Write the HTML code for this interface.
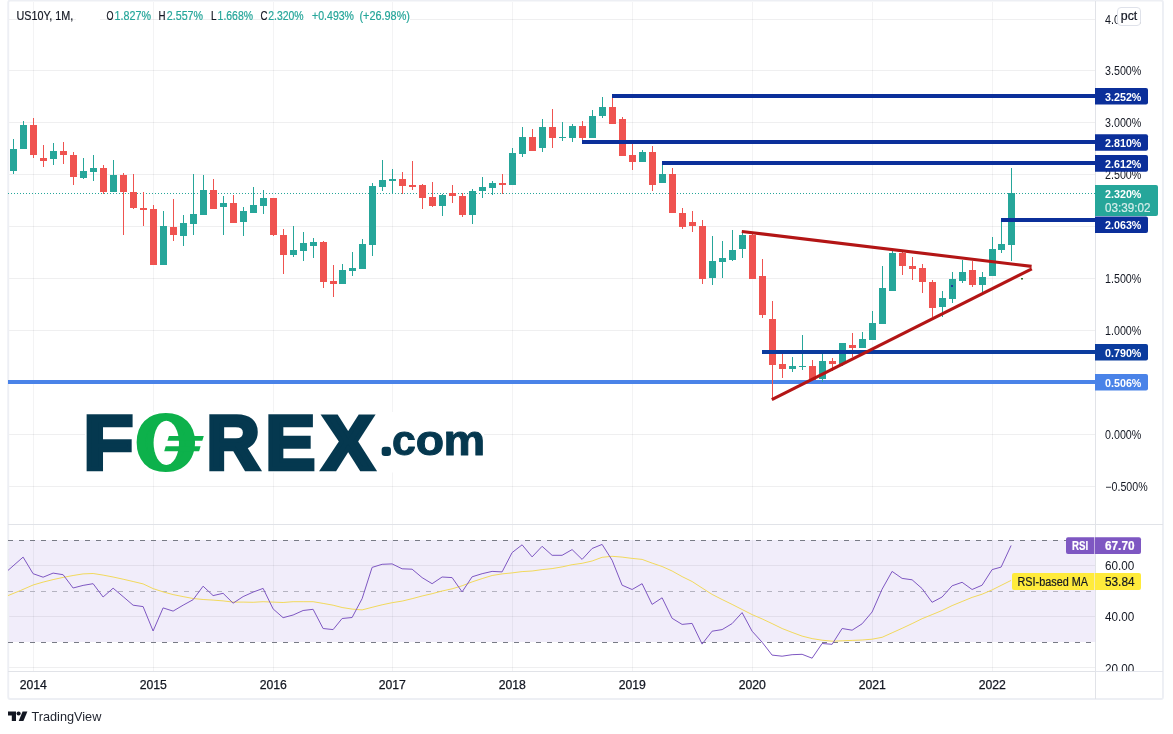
<!DOCTYPE html>
<html lang="en"><head><meta charset="utf-8"><title>US10Y 1M chart</title>
<style>html,body{margin:0;padding:0;background:#fff;}svg{display:block}</style></head>
<body>
<svg width="1173" height="734" viewBox="0 0 1173 734" font-family="'Liberation Sans', sans-serif">
<rect width="1173" height="734" fill="#fff"/>
<g shape-rendering="crispEdges">
<rect x="8" y="540" width="1087" height="102" fill="#f1edfa"/>
<rect x="8" y="19" width="68" height="1" fill="rgba(40,45,60,0.075)"/>
<rect x="100" y="19" width="204" height="1" fill="rgba(40,45,60,0.075)"/>
<rect x="410" y="19" width="685" height="1" fill="rgba(40,45,60,0.075)"/>
<rect x="8" y="70" width="1087" height="1" fill="rgba(40,45,60,0.075)"/>
<rect x="8" y="122" width="1087" height="1" fill="rgba(40,45,60,0.075)"/>
<rect x="8" y="174" width="1087" height="1" fill="rgba(40,45,60,0.075)"/>
<rect x="8" y="226" width="1087" height="1" fill="rgba(40,45,60,0.075)"/>
<rect x="8" y="278" width="1087" height="1" fill="rgba(40,45,60,0.075)"/>
<rect x="8" y="330" width="1087" height="1" fill="rgba(40,45,60,0.075)"/>
<rect x="8" y="382" width="1087" height="1" fill="rgba(40,45,60,0.075)"/>
<rect x="8" y="434" width="1087" height="1" fill="rgba(40,45,60,0.075)"/>
<rect x="8" y="486" width="1087" height="1" fill="rgba(40,45,60,0.075)"/>
<rect x="33" y="2" width="1" height="522" fill="rgba(40,45,60,0.055)"/>
<rect x="33" y="525" width="1" height="146" fill="rgba(40,45,60,0.055)"/>
<rect x="153" y="2" width="1" height="522" fill="rgba(40,45,60,0.055)"/>
<rect x="153" y="525" width="1" height="146" fill="rgba(40,45,60,0.055)"/>
<rect x="273" y="2" width="1" height="522" fill="rgba(40,45,60,0.055)"/>
<rect x="273" y="525" width="1" height="146" fill="rgba(40,45,60,0.055)"/>
<rect x="392" y="2" width="1" height="522" fill="rgba(40,45,60,0.055)"/>
<rect x="392" y="525" width="1" height="146" fill="rgba(40,45,60,0.055)"/>
<rect x="512" y="2" width="1" height="522" fill="rgba(40,45,60,0.055)"/>
<rect x="512" y="525" width="1" height="146" fill="rgba(40,45,60,0.055)"/>
<rect x="632" y="2" width="1" height="522" fill="rgba(40,45,60,0.055)"/>
<rect x="632" y="525" width="1" height="146" fill="rgba(40,45,60,0.055)"/>
<rect x="752" y="2" width="1" height="522" fill="rgba(40,45,60,0.055)"/>
<rect x="752" y="525" width="1" height="146" fill="rgba(40,45,60,0.055)"/>
<rect x="872" y="2" width="1" height="522" fill="rgba(40,45,60,0.055)"/>
<rect x="872" y="525" width="1" height="146" fill="rgba(40,45,60,0.055)"/>
<rect x="992" y="2" width="1" height="522" fill="rgba(40,45,60,0.055)"/>
<rect x="992" y="525" width="1" height="146" fill="rgba(40,45,60,0.055)"/>
<rect x="8" y="565" width="1087" height="1" fill="rgba(40,45,60,0.075)"/>
<rect x="8" y="616" width="1087" height="1" fill="rgba(40,45,60,0.075)"/>
<rect x="8" y="667" width="1087" height="1" fill="rgba(40,45,60,0.075)"/>
</g>
<rect x="8.25" y="0.45" width="1154.7" height="698.5" rx="2" fill="none" stroke="#edeff4" stroke-width="1.9"/>
<g shape-rendering="crispEdges">
<rect x="1095" y="1" width="1" height="698" fill="#e1e3e8"/>
<rect x="8" y="524" width="1155" height="1" fill="#e1e3e8"/>
<rect x="8" y="671" width="1155" height="1" fill="#e1e3e8"/>
</g>
<g shape-rendering="crispEdges" fill="none">
<path d="M8 540.5H1095" stroke="#787b86" stroke-dasharray="5 6"/>
<path d="M8 642.5H1095" stroke="#787b86" stroke-dasharray="5 6"/>
<path d="M8 591.5H1095" stroke="#b4b3c0" stroke-dasharray="5 6"/>
</g>
<path d="M8 193.5H1095" stroke="#26a69a" stroke-dasharray="1 2" shape-rendering="crispEdges" fill="none"/>
<rect x="8" y="380" width="1087" height="4" fill="#4a83e8" shape-rendering="crispEdges"/>
<g shape-rendering="crispEdges">
<rect x="13" y="139" width="1" height="35" fill="#26a69a"/><rect x="10" y="149" width="7" height="22" fill="#26a69a"/>
<rect x="23" y="121" width="1" height="28" fill="#26a69a"/><rect x="20" y="125" width="7" height="24" fill="#26a69a"/>
<rect x="33" y="118" width="1" height="40" fill="#ef5350"/><rect x="30" y="125" width="7" height="30" fill="#ef5350"/>
<rect x="43" y="145" width="1" height="22" fill="#ef5350"/><rect x="40" y="158" width="7" height="3" fill="#ef5350"/>
<rect x="53" y="143" width="1" height="22" fill="#26a69a"/><rect x="50" y="151" width="7" height="8" fill="#26a69a"/>
<rect x="63" y="142" width="1" height="22" fill="#ef5350"/><rect x="60" y="151" width="7" height="4" fill="#ef5350"/>
<rect x="73" y="152" width="1" height="33" fill="#ef5350"/><rect x="70" y="155" width="7" height="22" fill="#ef5350"/>
<rect x="83" y="158" width="1" height="21" fill="#26a69a"/><rect x="80" y="171" width="7" height="7" fill="#26a69a"/>
<rect x="93" y="155" width="1" height="26" fill="#26a69a"/><rect x="90" y="168" width="7" height="4" fill="#26a69a"/>
<rect x="103" y="165" width="1" height="29" fill="#ef5350"/><rect x="100" y="168" width="7" height="24" fill="#ef5350"/>
<rect x="113" y="160" width="1" height="32" fill="#26a69a"/><rect x="110" y="175" width="7" height="17" fill="#26a69a"/>
<rect x="123" y="173" width="1" height="62" fill="#ef5350"/><rect x="120" y="175" width="7" height="17" fill="#ef5350"/>
<rect x="133" y="174" width="1" height="35" fill="#ef5350"/><rect x="130" y="192" width="7" height="16" fill="#ef5350"/>
<rect x="143" y="192" width="1" height="34" fill="#ef5350"/><rect x="140" y="208" width="7" height="2" fill="#ef5350"/>
<rect x="153" y="205" width="1" height="60" fill="#ef5350"/><rect x="150" y="209" width="7" height="56" fill="#ef5350"/>
<rect x="163" y="211" width="1" height="54" fill="#26a69a"/><rect x="160" y="226" width="7" height="39" fill="#26a69a"/>
<rect x="173" y="199" width="1" height="42" fill="#ef5350"/><rect x="170" y="227" width="7" height="8" fill="#ef5350"/>
<rect x="183" y="215" width="1" height="31" fill="#26a69a"/><rect x="180" y="223" width="7" height="13" fill="#26a69a"/>
<rect x="193" y="174" width="1" height="61" fill="#26a69a"/><rect x="190" y="214" width="7" height="10" fill="#26a69a"/>
<rect x="203" y="175" width="1" height="40" fill="#26a69a"/><rect x="200" y="190" width="7" height="25" fill="#26a69a"/>
<rect x="213" y="179" width="1" height="30" fill="#ef5350"/><rect x="210" y="190" width="7" height="19" fill="#ef5350"/>
<rect x="223" y="196" width="1" height="39" fill="#26a69a"/><rect x="220" y="203" width="7" height="4" fill="#26a69a"/>
<rect x="233" y="195" width="1" height="28" fill="#ef5350"/><rect x="230" y="203" width="7" height="20" fill="#ef5350"/>
<rect x="243" y="207" width="1" height="29" fill="#26a69a"/><rect x="240" y="211" width="7" height="11" fill="#26a69a"/>
<rect x="253" y="187" width="1" height="26" fill="#26a69a"/><rect x="250" y="205" width="7" height="8" fill="#26a69a"/>
<rect x="263" y="190" width="1" height="24" fill="#26a69a"/><rect x="260" y="198" width="7" height="8" fill="#26a69a"/>
<rect x="273" y="198" width="1" height="38" fill="#ef5350"/><rect x="270" y="198" width="7" height="37" fill="#ef5350"/>
<rect x="283" y="229" width="1" height="45" fill="#ef5350"/><rect x="280" y="235" width="7" height="20" fill="#ef5350"/>
<rect x="293" y="226" width="1" height="31" fill="#26a69a"/><rect x="290" y="250" width="7" height="5" fill="#26a69a"/>
<rect x="303" y="232" width="1" height="29" fill="#26a69a"/><rect x="300" y="243" width="7" height="8" fill="#26a69a"/>
<rect x="313" y="238" width="1" height="20" fill="#26a69a"/><rect x="310" y="242" width="7" height="4" fill="#26a69a"/>
<rect x="323" y="241" width="1" height="47" fill="#ef5350"/><rect x="320" y="242" width="7" height="40" fill="#ef5350"/>
<rect x="333" y="265" width="1" height="32" fill="#ef5350"/><rect x="330" y="281" width="7" height="3" fill="#ef5350"/>
<rect x="342" y="264" width="1" height="20" fill="#26a69a"/><rect x="339" y="270" width="7" height="14" fill="#26a69a"/>
<rect x="352" y="252" width="1" height="24" fill="#26a69a"/><rect x="349" y="268" width="7" height="3" fill="#26a69a"/>
<rect x="362" y="239" width="1" height="30" fill="#26a69a"/><rect x="359" y="244" width="7" height="25" fill="#26a69a"/>
<rect x="372" y="183" width="1" height="73" fill="#26a69a"/><rect x="369" y="186" width="7" height="59" fill="#26a69a"/>
<rect x="382" y="160" width="1" height="31" fill="#26a69a"/><rect x="379" y="180" width="7" height="7" fill="#26a69a"/>
<rect x="392" y="169" width="1" height="25" fill="#26a69a"/><rect x="389" y="179" width="7" height="2" fill="#26a69a"/>
<rect x="402" y="172" width="1" height="22" fill="#ef5350"/><rect x="399" y="179" width="7" height="7" fill="#ef5350"/>
<rect x="412" y="161" width="1" height="29" fill="#ef5350"/><rect x="409" y="185" width="7" height="2" fill="#ef5350"/>
<rect x="422" y="184" width="1" height="25" fill="#ef5350"/><rect x="419" y="185" width="7" height="13" fill="#ef5350"/>
<rect x="432" y="182" width="1" height="25" fill="#ef5350"/><rect x="429" y="197" width="7" height="9" fill="#ef5350"/>
<rect x="442" y="194" width="1" height="22" fill="#26a69a"/><rect x="439" y="195" width="7" height="11" fill="#26a69a"/>
<rect x="452" y="185" width="1" height="18" fill="#ef5350"/><rect x="449" y="193" width="7" height="3" fill="#ef5350"/>
<rect x="462" y="193" width="1" height="24" fill="#ef5350"/><rect x="459" y="196" width="7" height="19" fill="#ef5350"/>
<rect x="472" y="189" width="1" height="35" fill="#26a69a"/><rect x="469" y="191" width="7" height="24" fill="#26a69a"/>
<rect x="482" y="177" width="1" height="21" fill="#26a69a"/><rect x="479" y="187" width="7" height="4" fill="#26a69a"/>
<rect x="492" y="181" width="1" height="14" fill="#26a69a"/><rect x="489" y="183" width="7" height="5" fill="#26a69a"/>
<rect x="502" y="174" width="1" height="20" fill="#ef5350"/><rect x="499" y="183" width="7" height="2" fill="#ef5350"/>
<rect x="512" y="148" width="1" height="37" fill="#26a69a"/><rect x="509" y="153" width="7" height="32" fill="#26a69a"/>
<rect x="522" y="127" width="1" height="30" fill="#26a69a"/><rect x="519" y="137" width="7" height="17" fill="#26a69a"/>
<rect x="532" y="129" width="1" height="22" fill="#ef5350"/><rect x="529" y="137" width="7" height="14" fill="#ef5350"/>
<rect x="542" y="119" width="1" height="33" fill="#26a69a"/><rect x="539" y="127" width="7" height="21" fill="#26a69a"/>
<rect x="552" y="109" width="1" height="39" fill="#ef5350"/><rect x="549" y="127" width="7" height="11" fill="#ef5350"/>
<rect x="562" y="122" width="1" height="19" fill="#26a69a"/><rect x="559" y="137" width="7" height="1" fill="#26a69a"/>
<rect x="572" y="124" width="1" height="18" fill="#26a69a"/><rect x="569" y="126" width="7" height="12" fill="#26a69a"/>
<rect x="582" y="121" width="1" height="20" fill="#ef5350"/><rect x="579" y="126" width="7" height="12" fill="#ef5350"/>
<rect x="592" y="110" width="1" height="28" fill="#26a69a"/><rect x="589" y="116" width="7" height="22" fill="#26a69a"/>
<rect x="602" y="97" width="1" height="21" fill="#26a69a"/><rect x="599" y="107" width="7" height="9" fill="#26a69a"/>
<rect x="612" y="95" width="1" height="29" fill="#ef5350"/><rect x="609" y="107" width="7" height="17" fill="#ef5350"/>
<rect x="622" y="117" width="1" height="39" fill="#ef5350"/><rect x="619" y="119" width="7" height="37" fill="#ef5350"/>
<rect x="632" y="144" width="1" height="26" fill="#ef5350"/><rect x="629" y="155" width="7" height="7" fill="#ef5350"/>
<rect x="642" y="150" width="1" height="12" fill="#26a69a"/><rect x="639" y="152" width="7" height="10" fill="#26a69a"/>
<rect x="652" y="146" width="1" height="45" fill="#ef5350"/><rect x="649" y="152" width="7" height="33" fill="#ef5350"/>
<rect x="662" y="163" width="1" height="20" fill="#26a69a"/><rect x="659" y="174" width="7" height="9" fill="#26a69a"/>
<rect x="672" y="168" width="1" height="45" fill="#ef5350"/><rect x="669" y="174" width="7" height="39" fill="#ef5350"/>
<rect x="682" y="208" width="1" height="21" fill="#ef5350"/><rect x="679" y="213" width="7" height="14" fill="#ef5350"/>
<rect x="692" y="211" width="1" height="21" fill="#ef5350"/><rect x="689" y="222" width="7" height="4" fill="#ef5350"/>
<rect x="702" y="220" width="1" height="64" fill="#ef5350"/><rect x="699" y="226" width="7" height="53" fill="#ef5350"/>
<rect x="712" y="236" width="1" height="49" fill="#26a69a"/><rect x="709" y="261" width="7" height="17" fill="#26a69a"/>
<rect x="722" y="241" width="1" height="37" fill="#26a69a"/><rect x="719" y="258" width="7" height="4" fill="#26a69a"/>
<rect x="732" y="230" width="1" height="31" fill="#26a69a"/><rect x="729" y="250" width="7" height="10" fill="#26a69a"/>
<rect x="742" y="230" width="1" height="28" fill="#26a69a"/><rect x="739" y="235" width="7" height="14" fill="#26a69a"/>
<rect x="752" y="234" width="1" height="45" fill="#ef5350"/><rect x="749" y="235" width="7" height="44" fill="#ef5350"/>
<rect x="762" y="259" width="1" height="59" fill="#ef5350"/><rect x="759" y="276" width="7" height="39" fill="#ef5350"/>
<rect x="772" y="301" width="1" height="98" fill="#ef5350"/><rect x="769" y="319" width="7" height="46" fill="#ef5350"/>
<rect x="782" y="354" width="1" height="24" fill="#ef5350"/><rect x="779" y="364" width="7" height="5" fill="#ef5350"/>
<rect x="792" y="357" width="1" height="15" fill="#26a69a"/><rect x="789" y="366" width="7" height="3" fill="#26a69a"/>
<rect x="802" y="335" width="1" height="35" fill="#26a69a"/><rect x="799" y="366" width="7" height="1" fill="#26a69a"/>
<rect x="812" y="360" width="1" height="20" fill="#ef5350"/><rect x="809" y="366" width="7" height="14" fill="#ef5350"/>
<rect x="822" y="354" width="1" height="28" fill="#26a69a"/><rect x="819" y="361" width="7" height="18" fill="#26a69a"/>
<rect x="832" y="358" width="1" height="13" fill="#ef5350"/><rect x="829" y="361" width="7" height="3" fill="#ef5350"/>
<rect x="842" y="343" width="1" height="23" fill="#26a69a"/><rect x="839" y="343" width="7" height="21" fill="#26a69a"/>
<rect x="852" y="333" width="1" height="24" fill="#ef5350"/><rect x="849" y="345" width="7" height="3" fill="#ef5350"/>
<rect x="862" y="332" width="1" height="16" fill="#26a69a"/><rect x="859" y="339" width="7" height="9" fill="#26a69a"/>
<rect x="872" y="311" width="1" height="29" fill="#26a69a"/><rect x="869" y="323" width="7" height="17" fill="#26a69a"/>
<rect x="882" y="266" width="1" height="58" fill="#26a69a"/><rect x="879" y="288" width="7" height="36" fill="#26a69a"/>
<rect x="892" y="251" width="1" height="40" fill="#26a69a"/><rect x="889" y="253" width="7" height="38" fill="#26a69a"/>
<rect x="902" y="252" width="1" height="23" fill="#ef5350"/><rect x="899" y="253" width="7" height="13" fill="#ef5350"/>
<rect x="912" y="257" width="1" height="23" fill="#ef5350"/><rect x="909" y="266" width="7" height="3" fill="#ef5350"/>
<rect x="922" y="264" width="1" height="29" fill="#ef5350"/><rect x="919" y="268" width="7" height="14" fill="#ef5350"/>
<rect x="932" y="280" width="1" height="37" fill="#ef5350"/><rect x="929" y="282" width="7" height="26" fill="#ef5350"/>
<rect x="942" y="291" width="1" height="26" fill="#26a69a"/><rect x="939" y="298" width="7" height="9" fill="#26a69a"/>
<rect x="952" y="272" width="1" height="31" fill="#26a69a"/><rect x="949" y="279" width="7" height="20" fill="#26a69a"/>
<rect x="962" y="260" width="1" height="23" fill="#26a69a"/><rect x="959" y="272" width="7" height="9" fill="#26a69a"/>
<rect x="972" y="261" width="1" height="26" fill="#ef5350"/><rect x="969" y="270" width="7" height="15" fill="#ef5350"/>
<rect x="982" y="272" width="1" height="20" fill="#26a69a"/><rect x="979" y="277" width="7" height="8" fill="#26a69a"/>
<rect x="992" y="237" width="1" height="39" fill="#26a69a"/><rect x="989" y="249" width="7" height="27" fill="#26a69a"/>
<rect x="1001" y="221" width="1" height="32" fill="#26a69a"/><rect x="998" y="244" width="7" height="6" fill="#26a69a"/>
<rect x="1011" y="168" width="1" height="93" fill="#26a69a"/><rect x="1008" y="193" width="7" height="52" fill="#26a69a"/>
</g>
<rect x="85" y="412" width="399" height="60.5" fill="#fff"/>
<text x="83.44 138.29 206.56 265.41 322.61" y="469.20 466.79 469.20 469.20 469.20" font-size="76.74" font-weight="bold" fill="#05384f" stroke="#05384f" stroke-width="4.4" stroke-linejoin="miter" stroke-miterlimit="6"><tspan textLength="49.76" lengthAdjust="spacingAndGlyphs">F</tspan><tspan textLength="55.29" lengthAdjust="spacingAndGlyphs" fill="#0db14b" stroke="#0db14b" font-size="70.90" stroke-width="9.0">O</tspan><tspan textLength="53.20" lengthAdjust="spacingAndGlyphs">R</tspan><tspan textLength="49.70" lengthAdjust="spacingAndGlyphs">E</tspan><tspan textLength="51.28" lengthAdjust="spacingAndGlyphs">X</tspan></text>
<ellipse cx="166.3" cy="442.9" rx="12.7" ry="22.1" fill="#fff"/>
<path d="M168.9 436H203.8L202.3 440.8H167.4Z M165.7 446.3H200.6L199.1 451.2H164.2Z" fill="#0db14b"/>
<text x="383.20 392.03 415.69 443.60" y="452.50 455.00 455.00 455.00" font-size="42.49" font-weight="bold" fill="#05384f" stroke="#05384f" stroke-width="1.0" stroke-linejoin="round" stroke-miterlimit="6"><tspan textLength="6.11" lengthAdjust="spacingAndGlyphs" fill="#05384f" stroke="#05384f" font-size="21.30" stroke-width="6.0">.</tspan><tspan textLength="23.82" lengthAdjust="spacingAndGlyphs">c</tspan><tspan textLength="28.31" lengthAdjust="spacingAndGlyphs">o</tspan><tspan textLength="41.71" lengthAdjust="spacingAndGlyphs">m</tspan></text>
<rect x="612" y="94" width="483" height="4" fill="#0b2f9a" shape-rendering="crispEdges"/>
<rect x="582" y="140" width="513" height="4" fill="#0b2f9a" shape-rendering="crispEdges"/>
<rect x="662" y="161" width="433" height="4" fill="#0b2f9a" shape-rendering="crispEdges"/>
<rect x="1001" y="218" width="94" height="4" fill="#0b2f9a" shape-rendering="crispEdges"/>
<rect x="762" y="350" width="333" height="4" fill="#0b3c9e" shape-rendering="crispEdges"/>
<g stroke="#b31515" stroke-width="3.1" fill="none">
<path d="M741.8 231.45L1031.6 266.4"/><path d="M771.8 399.6L1031.8 268.9"/>
</g>
<rect x="951" y="285" width="2" height="2" fill="#1a3a9a"/><rect x="1021" y="278" width="2" height="1.5" fill="#2e6b2e"/>
<polyline points="8.0,595.6 20.5,590.5 33.1,585.0 43.1,582.1 53.1,579.6 63.1,577.4 73.1,575.5 83.1,573.9 93.1,573.5 103.1,575.1 113.1,577.0 123.1,579.2 133.1,581.5 143.1,583.9 153.1,588.6 163.1,591.9 173.1,594.6 183.1,596.6 193.1,598.5 203.1,599.5 213.1,600.1 223.1,600.9 233.1,602.1 243.1,602.1 253.1,602.3 263.1,601.7 273.1,602.1 283.1,602.5 293.1,601.7 303.1,601.7 313.1,601.7 323.1,603.4 333.1,605.2 342.1,607.5 352.1,609.1 362.1,609.9 372.1,607.3 382.1,604.8 392.1,602.7 402.1,601.1 412.1,598.7 422.1,596.0 432.1,593.7 442.1,591.0 452.1,588.8 462.1,585.8 472.1,581.9 482.1,578.6 492.1,575.5 502.1,573.9 512.1,572.9 522.1,571.6 532.1,571.0 542.1,569.6 552.1,568.6 562.1,566.9 572.1,564.7 582.1,563.3 592.1,561.0 602.1,557.3 612.1,556.3 622.1,557.1 632.1,558.4 642.1,559.4 652.1,563.1 662.1,566.5 672.1,571.0 682.1,576.6 692.1,581.5 702.1,588.0 712.1,594.4 722.1,599.5 732.1,604.4 742.1,609.5 752.1,614.6 762.1,618.9 772.1,623.6 782.1,628.5 792.1,632.4 802.1,636.1 812.1,638.6 822.1,640.2 832.1,641.2 842.1,640.8 852.1,640.4 862.1,640.0 872.1,639.2 882.1,637.3 892.1,632.8 902.1,628.3 912.1,623.6 922.1,618.7 932.1,614.6 942.1,610.5 952.1,605.6 962.1,601.5 972.1,597.4 982.1,594.2 992.1,589.9 1001.1,585.4 1011.1,580.4" fill="none" stroke="#f2d95c" stroke-width="1.0" stroke-linejoin="round"/>
<polyline points="8.0,570.4 23.1,557.1 33.1,573.7 43.1,577.2 53.1,573.1 63.1,574.7 73.1,588.0 83.1,585.4 93.1,583.7 103.1,597.0 113.1,588.2 123.1,596.6 133.1,605.2 143.1,606.6 153.1,631.0 163.1,607.9 173.1,611.1 183.1,605.2 193.1,599.7 203.1,586.2 213.1,595.6 223.1,593.3 233.1,603.2 243.1,596.6 253.1,592.1 263.1,588.4 273.1,608.9 283.1,617.7 293.1,615.0 303.1,610.5 313.1,609.3 323.1,628.5 333.1,629.6 342.1,618.5 352.1,617.5 362.1,598.7 372.1,567.4 382.1,564.3 392.1,563.9 402.1,568.8 412.1,569.2 422.1,577.6 432.1,583.7 442.1,577.0 452.1,577.6 462.1,591.9 472.1,576.8 482.1,573.7 492.1,571.4 502.1,571.9 512.1,552.6 522.1,544.8 532.1,556.9 542.1,546.3 552.1,555.3 562.1,555.3 572.1,549.6 582.1,559.4 592.1,548.5 602.1,544.4 612.1,560.2 622.1,585.2 632.1,589.5 642.1,583.7 652.1,604.4 662.1,597.8 672.1,618.3 682.1,624.4 692.1,623.4 702.1,644.1 712.1,631.2 722.1,629.6 732.1,623.6 742.1,612.6 752.1,631.2 762.1,642.2 772.1,655.1 782.1,656.2 792.1,654.7 802.1,654.3 812.1,658.2 822.1,643.5 832.1,644.3 842.1,628.5 852.1,630.2 862.1,623.8 872.1,612.0 882.1,589.2 892.1,571.4 902.1,578.4 912.1,579.8 922.1,588.6 932.1,602.3 942.1,597.0 952.1,585.8 962.1,582.3 972.1,589.5 982.1,585.2 992.1,569.6 1001.1,567.1 1011.1,545.5" fill="none" stroke="#7e57c2" stroke-width="1.0" stroke-linejoin="round"/>
<text x="16.4" y="20" font-size="12.5" fill="#131722" textLength="56.8" lengthAdjust="spacingAndGlyphs" stroke="#131722" stroke-width="0.2">US10Y, 1M,</text>
<text x="106.4" y="20" font-size="12" fill="#131722" textLength="7" lengthAdjust="spacingAndGlyphs" stroke="#131722" stroke-width="0.2">O</text>
<text x="114.6" y="20" font-size="12" fill="#26a69a" textLength="36.4" lengthAdjust="spacingAndGlyphs" stroke="#26a69a" stroke-width="0.2">1.827%</text>
<text x="158.6" y="20" font-size="12" fill="#131722" textLength="7" lengthAdjust="spacingAndGlyphs" stroke="#131722" stroke-width="0.2">H</text>
<text x="166.8" y="20" font-size="12" fill="#26a69a" textLength="36.2" lengthAdjust="spacingAndGlyphs" stroke="#26a69a" stroke-width="0.2">2.557%</text>
<text x="210.9" y="20" font-size="12" fill="#131722" textLength="5.5" lengthAdjust="spacingAndGlyphs" stroke="#131722" stroke-width="0.2">L</text>
<text x="217.6" y="20" font-size="12" fill="#26a69a" textLength="35.4" lengthAdjust="spacingAndGlyphs" stroke="#26a69a" stroke-width="0.2">1.668%</text>
<text x="260.6" y="20" font-size="12" fill="#131722" textLength="7" lengthAdjust="spacingAndGlyphs" stroke="#131722" stroke-width="0.2">C</text>
<text x="268.2" y="20" font-size="12" fill="#26a69a" textLength="35.4" lengthAdjust="spacingAndGlyphs" stroke="#26a69a" stroke-width="0.2">2.320%</text>
<text x="312.1" y="20" font-size="12" fill="#26a69a" textLength="41.9" lengthAdjust="spacingAndGlyphs" stroke="#26a69a" stroke-width="0.2">+0.493%</text>
<text x="359.4" y="20" font-size="12" fill="#26a69a" textLength="50.6" lengthAdjust="spacingAndGlyphs" stroke="#26a69a" stroke-width="0.2">(+26.98%)</text>
<text x="1105" y="23.8" font-size="12" fill="#131722" textLength="36.3" lengthAdjust="spacingAndGlyphs">4.000%</text>
<text x="1105" y="74.8" font-size="12" fill="#131722" textLength="36.3" lengthAdjust="spacingAndGlyphs">3.500%</text>
<text x="1105" y="126.8" font-size="12" fill="#131722" textLength="36.3" lengthAdjust="spacingAndGlyphs">3.000%</text>
<text x="1105" y="178.8" font-size="12" fill="#131722" textLength="36.3" lengthAdjust="spacingAndGlyphs">2.500%</text>
<text x="1105" y="282.8" font-size="12" fill="#131722" textLength="36.3" lengthAdjust="spacingAndGlyphs">1.500%</text>
<text x="1105" y="334.8" font-size="12" fill="#131722" textLength="36.3" lengthAdjust="spacingAndGlyphs">1.000%</text>
<text x="1105" y="438.8" font-size="12" fill="#131722" textLength="36.3" lengthAdjust="spacingAndGlyphs">0.000%</text>
<text x="1105.3" y="490.8" font-size="12" fill="#131722" textLength="42.3" lengthAdjust="spacingAndGlyphs">−0.500%</text>
<rect x="1117.5" y="7.5" width="23" height="18" rx="3.5" fill="#fff" stroke="#dfe2ea"/>
<text x="1120.8" y="19.6" font-size="12" fill="#131722" textLength="16.5" lengthAdjust="spacingAndGlyphs" stroke="#131722" stroke-width="0.2">pct</text>
<path d="M1095 88H1146a2 2 0 0 1 2 2V102.6a2 2 0 0 1 -2 2H1095Z" fill="#0b2f9a"/>
<text x="1105" y="100.9" font-size="11.7" fill="#fff" font-weight="bold" textLength="36.4" lengthAdjust="spacingAndGlyphs">3.252%</text>
<path d="M1095 134.2H1146a2 2 0 0 1 2 2V148.79999999999998a2 2 0 0 1 -2 2H1095Z" fill="#0b2f9a"/>
<text x="1105" y="147.1" font-size="11.7" fill="#fff" font-weight="bold" textLength="36.4" lengthAdjust="spacingAndGlyphs">2.810%</text>
<path d="M1095 155.1H1146a2 2 0 0 1 2 2V169.7a2 2 0 0 1 -2 2H1095Z" fill="#0b2f9a"/>
<text x="1105" y="168.0" font-size="11.7" fill="#fff" font-weight="bold" textLength="36.4" lengthAdjust="spacingAndGlyphs">2.612%</text>
<path d="M1095 216.4H1146a2 2 0 0 1 2 2V231.0a2 2 0 0 1 -2 2H1095Z" fill="#0b2f9a"/>
<text x="1105" y="229.3" font-size="11.7" fill="#fff" font-weight="bold" textLength="36.4" lengthAdjust="spacingAndGlyphs">2.063%</text>
<path d="M1095 344H1146a2 2 0 0 1 2 2V358.6a2 2 0 0 1 -2 2H1095Z" fill="#0b3c9e"/>
<text x="1105" y="356.9" font-size="11.7" fill="#fff" font-weight="bold" textLength="36.4" lengthAdjust="spacingAndGlyphs">0.790%</text>
<path d="M1095 374H1146a2 2 0 0 1 2 2V388.6a2 2 0 0 1 -2 2H1095Z" fill="#4a83e8"/>
<text x="1105" y="386.9" font-size="11.7" fill="#fff" font-weight="bold" textLength="36.4" lengthAdjust="spacingAndGlyphs">0.506%</text>
<path d="M1095 185H1156a2 2 0 0 1 2 2V214a2 2 0 0 1 -2 2H1095Z" fill="#26a69a"/>
<text x="1105" y="197.8" font-size="11.7" fill="#fff" font-weight="bold" textLength="36.4" lengthAdjust="spacingAndGlyphs">2.320%</text>
<text x="1105" y="211.5" font-size="12" fill="#d4edea" textLength="45.5" lengthAdjust="spacingAndGlyphs" stroke="#d4edea" stroke-width="0.2">03:39:02</text>
<path d="M1068 537.2H1094V554H1068a2 2 0 0 1 -2 -2V539.2a2 2 0 0 1 2 -2Z" fill="#7e57c2"/>
<path d="M1094.6 537.2H1139a2 2 0 0 1 2 2V552a2 2 0 0 1 -2 2H1094.6Z" fill="#7e57c2"/>
<text x="1072" y="549.9" font-size="12" fill="#fff" font-weight="bold" textLength="16.2" lengthAdjust="spacingAndGlyphs" stroke="#fff" stroke-width="0.2">RSI</text>
<text x="1105" y="549.9" font-size="12" fill="#fff" font-weight="bold" textLength="29.5" lengthAdjust="spacingAndGlyphs" stroke="#fff" stroke-width="0.2">67.70</text>
<path d="M1014 573.1H1094V590H1014a2 2 0 0 1 -2 -2V575.1a2 2 0 0 1 2 -2Z" fill="#ffeb3b"/>
<path d="M1094.6 573.1H1139a2 2 0 0 1 2 2V588a2 2 0 0 1 -2 2H1094.6Z" fill="#ffeb3b"/>
<text x="1017.5" y="585.9" font-size="12" fill="#131722" textLength="70.5" lengthAdjust="spacingAndGlyphs" stroke="#131722" stroke-width="0.2">RSI-based MA</text>
<text x="1105" y="585.9" font-size="12" fill="#131722" textLength="29.5" lengthAdjust="spacingAndGlyphs" stroke="#131722" stroke-width="0.2">53.84</text>
<text x="1105" y="570.2" font-size="12" fill="#131722" textLength="29.3" lengthAdjust="spacingAndGlyphs">60.00</text>
<text x="1105" y="621.4" font-size="12" fill="#131722" textLength="29.3" lengthAdjust="spacingAndGlyphs">40.00</text>
<text x="1105" y="672.6" font-size="12" fill="#131722" textLength="29.3" lengthAdjust="spacingAndGlyphs">20.00</text>
<rect x="1096" y="671" width="66" height="27" fill="#fff"/><rect x="1096" y="671" width="67" height="1" fill="#e3e5ec" shape-rendering="crispEdges"/>
<text x="33.3" y="689.3" font-size="12" fill="#131722" textLength="27.2" lengthAdjust="spacingAndGlyphs" text-anchor="middle" stroke="#131722" stroke-width="0.25">2014</text>
<text x="153.3" y="689.3" font-size="12" fill="#131722" textLength="27.2" lengthAdjust="spacingAndGlyphs" text-anchor="middle" stroke="#131722" stroke-width="0.25">2015</text>
<text x="273.3" y="689.3" font-size="12" fill="#131722" textLength="27.2" lengthAdjust="spacingAndGlyphs" text-anchor="middle" stroke="#131722" stroke-width="0.25">2016</text>
<text x="392.3" y="689.3" font-size="12" fill="#131722" textLength="27.2" lengthAdjust="spacingAndGlyphs" text-anchor="middle" stroke="#131722" stroke-width="0.25">2017</text>
<text x="512.3" y="689.3" font-size="12" fill="#131722" textLength="27.2" lengthAdjust="spacingAndGlyphs" text-anchor="middle" stroke="#131722" stroke-width="0.25">2018</text>
<text x="632.3" y="689.3" font-size="12" fill="#131722" textLength="27.2" lengthAdjust="spacingAndGlyphs" text-anchor="middle" stroke="#131722" stroke-width="0.25">2019</text>
<text x="752.3" y="689.3" font-size="12" fill="#131722" textLength="27.2" lengthAdjust="spacingAndGlyphs" text-anchor="middle" stroke="#131722" stroke-width="0.25">2020</text>
<text x="872.3" y="689.3" font-size="12" fill="#131722" textLength="27.2" lengthAdjust="spacingAndGlyphs" text-anchor="middle" stroke="#131722" stroke-width="0.25">2021</text>
<text x="992.3" y="689.3" font-size="12" fill="#131722" textLength="27.2" lengthAdjust="spacingAndGlyphs" text-anchor="middle" stroke="#131722" stroke-width="0.25">2022</text>
<g fill="#131722"><path d="M8 711.4h8v9.5h-4.2v-5.3H8z"/><circle cx="18.6" cy="713.5" r="2.1"/><path d="M22.6 711.4h4.8l-4 9.5h-4.7z"/></g>
<text x="31.5" y="720.9" font-size="13" fill="#1e222d" textLength="69.8" lengthAdjust="spacingAndGlyphs">TradingView</text>
</svg>
</body></html>
